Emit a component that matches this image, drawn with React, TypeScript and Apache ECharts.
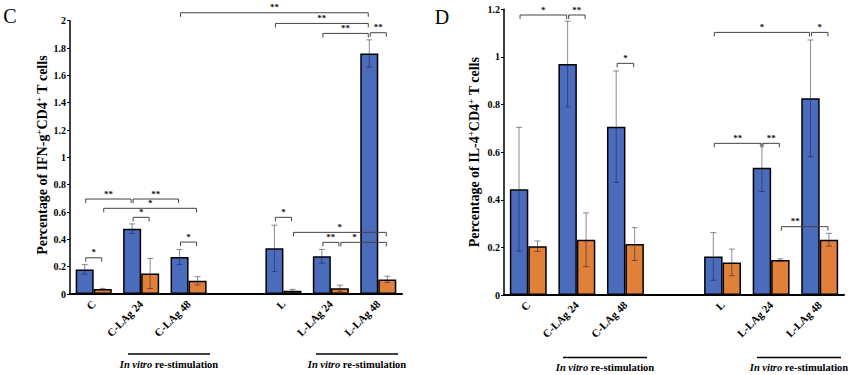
import React, { useEffect, useRef } from "react";
import * as echarts from "echarts";

const categories = ["C", "C-LAg 24", "C-LAg 48", "", "L", "L-LAg 24", "L-LAg 48"];

const ifnBlue = [0.18, 0.478, 0.27, null, 0.334, 0.276, 1.76];
const ifnBlueErr = [0.035, 0.035, 0.055, null, 0.17, 0.05, 0.1];
const ifnOrange = [0.036, 0.15, 0.097, null, 0.024, 0.042, 0.107];
const ifnOrangeErr = [0.005, 0.11, 0.03, null, 0.01, 0.023, 0.023];

const il4Blue = [0.444, 0.97, 0.707, null, 0.162, 0.535, 0.826];
const il4BlueErr = [0.26, 0.18, 0.234, null, 0.1, 0.1, 0.245];
const il4Orange = [0.205, 0.232, 0.214, null, 0.137, 0.147, 0.232];
const il4OrangeErr = [0.022, 0.113, 0.069, null, 0.056, 0.005, 0.027];

// [fromCategory, fromSeries(0 blue / 1 orange), toCategory, toSeries, level, label, labelFraction]
const ifnBrackets: [number, number, number, number, number, string, number][] = [
  [2, 0, 6, 0, 2.058, "**", 0.5],
  [4, 0, 6, 0, 1.98, "**", 0.5],
  [5, 0, 6, 0, 1.907, "**", 0.5],
  [6, 0, 6, 1, 1.912, "**", 0.5],
  [0, 0, 1, 0, 0.695, "**", 0.5],
  [1, 0, 2, 0, 0.695, "**", 0.5],
  [0, 1, 2, 1, 0.627, "*", 0.5],
  [1, 0, 1, 1, 0.561, "*", 0.5],
  [0, 0, 0, 1, 0.265, "*", 0.5],
  [2, 0, 2, 1, 0.38, "*", 0.5],
  [4, 0, 4, 1, 0.561, "*", 0.5],
  [4, 1, 6, 1, 0.451, "*", 0.5],
  [5, 0, 5, 1, 0.378, "**", 0.5],
  [5, 1, 6, 1, 0.378, "*", 0.3],
];

const il4Brackets: [number, number, number, number, number, string, number][] = [
  [0, 0, 1, 0, 1.176, "*", 0.5],
  [1, 0, 1, 1, 1.176, "**", 0.5],
  [2, 0, 2, 1, 0.973, "*", 0.5],
  [4, 0, 6, 0, 1.103, "*", 0.5],
  [6, 0, 6, 1, 1.103, "*", 0.5],
  [4, 0, 5, 0, 0.637, "**", 0.5],
  [5, 0, 5, 1, 0.637, "**", 0.5],
  [5, 1, 6, 1, 0.287, "**", 0.3],
];

const ifnTicks = { min: 0, max: 2, interval: 0.2 };
const il4Ticks = { min: 0, max: 1.2, interval: 0.2 };

const SERIF = "'Times New Roman', 'Liberation Serif', 'DejaVu Serif', serif";
const BLUE = "#4b6cbd";
const ORANGE = "#e0803a";
const GAP = 0.24;

function barOffset(api: any, ser: number) {
  const catW = api.size([1, 0])[0];
  const bw = (catW * (1 - GAP)) / 2;
  return ser === 0 ? -bw / 2 : bw / 2;
}

function errorSeries(gridIdx: number, vals: (number | null)[], errs: (number | null)[], ser: number) {
  const data: number[][] = [];
  vals.forEach((v, i) => {
    if (v != null && errs[i] != null) data.push([i, v as number, errs[i] as number]);
  });
  return {
    type: "custom",
    xAxisIndex: gridIdx,
    yAxisIndex: gridIdx,
    z: 5,
    clip: false,
    data,
    renderItem: (params: any, api: any) => {
      const i = api.value(0);
      const v = api.value(1);
      const e = api.value(2);
      const x = api.coord([i, v])[0] + barOffset(api, ser);
      const yT = api.coord([i, v + e])[1];
      const yB = api.coord([i, Math.max(0, v - e)])[1];
      const cap = 3;
      const style = { stroke: "rgba(25,25,60,0.5)", lineWidth: 1, fill: "none" };
      return {
        type: "group",
        children: [
          { type: "line", shape: { x1: x, y1: yT, x2: x, y2: yB }, style },
          { type: "line", shape: { x1: x - cap, y1: yT, x2: x + cap, y2: yT }, style },
          { type: "line", shape: { x1: x - cap, y1: yB, x2: x + cap, y2: yB }, style },
        ],
      };
    },
  };
}

function bracketSeries(gridIdx: number, brackets: [number, number, number, number, number, string, number][]) {
  return {
    type: "custom",
    xAxisIndex: gridIdx,
    yAxisIndex: gridIdx,
    z: 6,
    clip: false,
    data: brackets.map((b) => [b[0], b[4]]),
    renderItem: (params: any, api: any) => {
      const b = brackets[params.dataIndex];
      const x1 = api.coord([b[0], b[4]])[0] + barOffset(api, b[1]) + 1;
      const x2 = api.coord([b[2], b[4]])[0] + barOffset(api, b[3]) - 1;
      const y = api.coord([b[0], b[4]])[1];
      const drop = 4;
      return {
        type: "group",
        children: [
          {
            type: "polyline",
            shape: { points: [[x1, y + drop], [x1, y], [x2, y], [x2, y + drop]] },
            style: { stroke: "#444", lineWidth: 1, fill: "none" },
          },
          {
            type: "text",
            x: x1 + (x2 - x1) * b[6],
            y: y - 1,
            style: {
              text: b[5],
              fontSize: 9,
              fontWeight: "bold",
              fontFamily: SERIF,
              fill: "#111",
              align: "center",
              verticalAlign: "bottom",
            },
          },
        ],
      };
    },
  };
}

function xAxis(gridIndex: number) {
  return {
    type: "category",
    gridIndex,
    data: categories,
    axisLine: { lineStyle: { color: "#000", width: 2 } },
    axisTick: { show: false },
    axisLabel: {
      interval: 0,
      rotate: 45,
      margin: 8,
      fontSize: 11,
      fontWeight: "bold",
      fontFamily: SERIF,
      color: "#000",
    },
  };
}

function yAxis(gridIndex: number, t: { min: number; max: number; interval: number }) {
  return {
    type: "value",
    gridIndex,
    min: t.min,
    max: t.max,
    interval: t.interval,
    splitLine: { show: false },
    axisLine: { show: true, lineStyle: { color: "#000", width: 1.5 } },
    axisTick: { show: true, length: 3, lineStyle: { color: "#000", width: 1 } },
    axisLabel: {
      margin: 4,
      fontSize: 10,
      fontWeight: "bold",
      fontFamily: SERIF,
      color: "#000",
      formatter: (v: number) => String(Math.round(v * 10) / 10),
    },
  };
}

function barSeries(gridIdx: number, vals: (number | null)[], color: string) {
  return {
    type: "bar",
    xAxisIndex: gridIdx,
    yAxisIndex: gridIdx,
    data: vals.map((v) => (v == null ? "-" : v)),
    barGap: "0%",
    barCategoryGap: GAP * 100 + "%",
    itemStyle: { color, borderColor: "#000", borderWidth: 1.5 },
    z: 2,
  };
}

function yTitle(x: number, y: number, marker: string) {
  return {
    type: "text",
    x,
    y,
    rotation: Math.PI / 2,
    style: {
      text: `{a|Percentage of ${marker}}{s|+}{a|CD4}{s|+}{a| T cells}`,
      align: "center",
      verticalAlign: "middle",
      rich: {
        a: { fontSize: 14, fontWeight: "bold", fontFamily: SERIF, fill: "#000", lineHeight: 16 },
        s: { fontSize: 9, fontWeight: "bold", fontFamily: SERIF, fill: "#000", lineHeight: 16, verticalAlign: "top" },
      },
    },
  };
}

function restim(x1: number, x2: number, y: number) {
  return [
    { type: "line", shape: { x1, y1: y, x2, y2: y }, style: { stroke: "#000", lineWidth: 1.5 } },
    {
      type: "text",
      x: (x1 + x2) / 2,
      y: y + 10,
      style: {
        text: "{i|In vitro}{n| re-stimulation}",
        align: "center",
        verticalAlign: "middle",
        rich: {
          i: { fontSize: 10.5, fontWeight: "bold", fontStyle: "italic", fontFamily: SERIF, fill: "#000" },
          n: { fontSize: 10.5, fontWeight: "bold", fontFamily: SERIF, fill: "#000" },
        },
      },
    },
  ];
}

export default function App() {
  const ref = useRef<HTMLDivElement>(null);
  useEffect(() => {
    if (!ref.current) return;
    const chart = echarts.init(ref.current, undefined, { renderer: "svg" });
    chart.setOption({
      animation: false,
      backgroundColor: "#fff",
      grid: [
        { left: 70, top: 20.7, width: 332, height: 273.3, containLabel: false },
        { left: 504, top: 9.3, width: 340, height: 285.7, containLabel: false },
      ],
      xAxis: [xAxis(0), xAxis(1)],
      yAxis: [yAxis(0, ifnTicks), yAxis(1, il4Ticks)],
      series: [
        barSeries(0, ifnBlue, BLUE),
        barSeries(0, ifnOrange, ORANGE),
        errorSeries(0, ifnBlue, ifnBlueErr, 0),
        errorSeries(0, ifnOrange, ifnOrangeErr, 1),
        bracketSeries(0, ifnBrackets),
        barSeries(1, il4Blue, BLUE),
        barSeries(1, il4Orange, ORANGE),
        errorSeries(1, il4Blue, il4BlueErr, 0),
        errorSeries(1, il4Orange, il4OrangeErr, 1),
        bracketSeries(1, il4Brackets),
      ],
      graphic: [
        {
          type: "text",
          x: 10,
          y: 16,
          style: { text: "C", fontSize: 20, fontFamily: SERIF, fill: "#000", align: "center", verticalAlign: "middle" },
        },
        {
          type: "text",
          x: 442,
          y: 17,
          style: { text: "D", fontSize: 20, fontFamily: SERIF, fill: "#000", align: "center", verticalAlign: "middle" },
        },
        yTitle(42, 155, "IFN-g"),
        yTitle(474, 152, "IL-4"),
        ...restim(128, 210, 354),
        ...restim(316, 398, 354),
        ...restim(563, 647, 357.5),
        ...restim(757, 841, 357.5),
      ],
    });
    return () => chart.dispose();
  }, []);
  return (
    <div
      ref={ref}
      style={{ position: "fixed", left: 0, top: 0, width: 850, height: 375, background: "#fff" }}
    />
  );
}
